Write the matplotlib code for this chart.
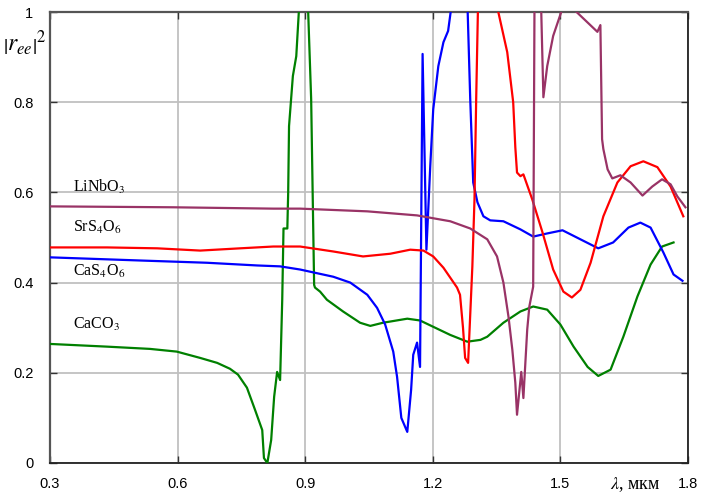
import numpy as np
import matplotlib
matplotlib.use("Agg")
import matplotlib.pyplot as plt

plt.rcParams['font.family'] = ['Liberation Sans', 'DejaVu Sans']
plt.rcParams['mathtext.fontset'] = 'stix'

nan = np.nan

# CaCO3 (green)
caco3_x = [0.30, 0.434, 0.535, 0.598, 0.653, 0.693, 0.723, 0.742, 0.763, 0.782, 0.799, 0.803,
           0.811, 0.820, 0.827, 0.834, 0.841, 0.846, 0.849, 0.858, 0.860, 0.862, 0.871,
           0.879, 0.885, 0.895,
           0.907, 0.914, 0.921, 0.923, 0.935, 0.951, 0.989, 1.029, 1.053, 1.083, 1.140,
           1.170, 1.201, 1.241, 1.281, 1.312, 1.328, 1.366, 1.406, 1.436, 1.469, 1.500,
           1.531, 1.564, 1.589, 1.618, 1.648, 1.681, 1.712, 1.739, 1.766]
caco3_y = [0.264, 0.258, 0.253, 0.247, 0.233, 0.222, 0.209, 0.196, 0.167, 0.118, 0.073, 0.011,
           0.0, 0.051, 0.147, 0.202, 0.184, 0.362, 0.520, 0.520, 0.600, 0.747, 0.858,
           0.902, 1.0, nan,
           1.0, 0.807, 0.395, 0.389, 0.380, 0.362, 0.336, 0.311, 0.304, 0.311, 0.320,
           0.316, 0.302, 0.284, 0.269, 0.273, 0.280, 0.311, 0.336, 0.347, 0.340, 0.307,
           0.258, 0.213, 0.193, 0.207, 0.280, 0.369, 0.440, 0.480, 0.489]

# CaS4O6 (blue)
cas4o6_x = [0.30, 0.512, 0.669, 0.787, 0.841, 0.888, 0.966, 1.006, 1.046, 1.069, 1.088, 1.107,
            1.116, 1.126, 1.140, 1.149, 1.154, 1.163, 1.170, 1.176, 1.185, 1.194, 1.201,
            1.213, 1.225, 1.236, 1.242, 1.250,
            1.282, 1.288, 1.295, 1.305, 1.319, 1.335, 1.366, 1.406, 1.436, 1.469, 1.505,
            1.547, 1.589, 1.624, 1.660, 1.688, 1.712, 1.742, 1.766, 1.787]
cas4o6_y = [0.456, 0.449, 0.444, 0.438, 0.436, 0.429, 0.413, 0.400, 0.373, 0.344, 0.307, 0.247,
            0.191, 0.100, 0.069, 0.162, 0.240, 0.267, 0.213, 0.907, 0.473, 0.658, 0.784,
            0.880, 0.933, 0.958, 1.0, nan,
            1.0, 0.807, 0.622, 0.578, 0.547, 0.538, 0.536, 0.518, 0.502, 0.509, 0.516,
            0.496, 0.476, 0.489, 0.522, 0.533, 0.522, 0.467, 0.418, 0.404]

# SrS4O6 (red)
srs4o6_x = [0.30, 0.434, 0.552, 0.653, 0.747, 0.825, 0.888, 0.966, 1.036, 1.100, 1.147, 1.178,
            1.201, 1.225, 1.257, 1.264, 1.271, 1.276, 1.283, 1.293, 1.298, 1.302, 1.306,
            1.320,
            1.354, 1.375, 1.389, 1.394, 1.398, 1.406, 1.413, 1.434, 1.458, 1.483, 1.507,
            1.527, 1.547, 1.571, 1.601, 1.634, 1.665, 1.695, 1.728, 1.759, 1.789]
srs4o6_y = [0.478, 0.478, 0.476, 0.471, 0.476, 0.480, 0.480, 0.469, 0.458, 0.464, 0.473, 0.471,
            0.458, 0.433, 0.389, 0.373, 0.300, 0.233, 0.222, 0.436, 0.584, 0.807, 1.0,
            nan,
            1.0, 0.911, 0.800, 0.700, 0.644, 0.636, 0.640, 0.584, 0.511, 0.429, 0.380,
            0.367, 0.384, 0.444, 0.547, 0.622, 0.658, 0.669, 0.656, 0.613, 0.547]

# LiNbO3 (purple)
linbo3_x = [0.30, 0.589, 0.825, 0.888, 1.046, 1.163, 1.241, 1.288, 1.328, 1.351, 1.366, 1.378,
            1.387, 1.394, 1.398, 1.408, 1.413, 1.422, 1.427, 1.436, 1.439, 1.447,
            1.455, 1.460, 1.469, 1.483, 1.502, 1.520,
            1.538, 1.587, 1.594, 1.598, 1.601, 1.611, 1.622, 1.641, 1.665, 1.693, 1.716,
            1.739, 1.759, 1.775, 1.794]
linbo3_y = [0.569, 0.567, 0.564, 0.564, 0.558, 0.549, 0.536, 0.520, 0.496, 0.458, 0.400, 0.324,
            0.251, 0.178, 0.107, 0.202, 0.144, 0.296, 0.347, 0.391, 1.0, nan,
            1.0, 0.811, 0.880, 0.947, 1.0, nan,
            1.0, 0.956, 0.971, 0.718, 0.696, 0.651, 0.631, 0.638, 0.622, 0.593, 0.613,
            0.629, 0.618, 0.591, 0.567]

series = [
    (caco3_x, caco3_y, '#008000'),
    (cas4o6_x, cas4o6_y, '#0000ff'),
    (srs4o6_x, srs4o6_y, '#ff0000'),
    (linbo3_x, linbo3_y, '#993366'),
]

labels = ['LiNbO$_3$', 'SrS$_4$O$_6$', 'CaS$_4$O$_6$', 'CaCO$_3$']
label_y = [0.611, 0.522, 0.424, 0.307]

xticks = [0.3, 0.6, 0.9, 1.2, 1.5, 1.8]
yticks = [0, 0.2, 0.4, 0.6, 0.8, 1]

fig = plt.figure(figsize=(7.01, 4.95), dpi=100)
ax = fig.add_axes([50/701, 32/495, 638/701, 451/495])

for xs, ys, c in series:
    ax.plot(xs, ys, color=c, lw=1.6, zorder=3, solid_joinstyle='round')

ax.set_xlim(0.3, 1.8)
ax.set_ylim(0, 1)
ax.set_xticks(xticks)
ax.set_xticklabels(['0.3', '0.6', '0.9', '1.2', '1.5', '1.8'])
ax.set_yticks(yticks)
ax.set_yticklabels(['0', '0.2', '0.4', '0.6', '0.8', '1'])
ax.grid(True, color='#c0c0c0', lw=1.3, zorder=0)
ax.tick_params(direction='in', length=5, width=1, top=True, right=True,
               labelsize=10.5, pad=10, colors='#333333')
ax.tick_params(axis='x', labelcolor='black')
ax.tick_params(axis='y', labelcolor='black', pad=12)
for s in ['top', 'left']:
    ax.spines[s].set_color('#555555')
    ax.spines[s].set_linewidth(1.6)
for s in ['bottom', 'right']:
    ax.spines[s].set_color('#222222')
    ax.spines[s].set_linewidth(1.3)

for lab, y in zip(labels, label_y):
    ax.text(0.354, y, lab, family='Liberation Serif', fontsize=11.5, va='center', ha='left')

fig.text(0.036, 0.915, r'$\left|r_{ee}\right|^2$', fontsize=17, ha='center', va='center')
ax.text(1.676, -0.047, r'$\lambda$, мкм', family='Liberation Serif', fontsize=13,
        ha='center', va='center', transform=ax.transData)

fig.savefig('out.png', dpi=100)
